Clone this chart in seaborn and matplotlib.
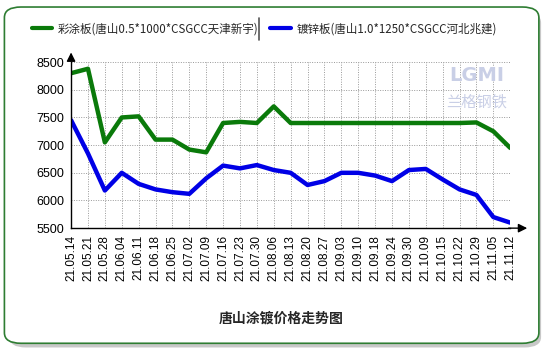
import numpy as np
import pandas as pd
import matplotlib
matplotlib.use("Agg")
import matplotlib.pyplot as plt
from matplotlib.patches import FancyBboxPatch
from matplotlib.lines import Line2D
import seaborn as sns

# dates (yy.mm.dd)
dates = ["21.05.14", "21.05.21", "21.05.28", "21.06.04", "21.06.11", "21.06.18",
         "21.06.25", "21.07.02", "21.07.09", "21.07.16", "21.07.23", "21.07.30",
         "21.08.06", "21.08.13", "21.08.20", "21.08.27", "21.09.03", "21.09.10",
         "21.09.18", "21.09.24", "21.09.30", "21.10.09", "21.10.15", "21.10.22",
         "21.10.29", "21.11.05", "21.11.12"]

# color coated sheet
color_coated = [8300, 8380, 7050, 7500, 7520, 7100, 7100, 6920, 6870, 7400,
                7420, 7400, 7700, 7400, 7400, 7400, 7400, 7400, 7400, 7400,
                7400, 7400, 7400, 7400, 7410, 7250, 6950]
# galvanized sheet
galvanized = [7450, 6850, 6180, 6500, 6300, 6200, 6150, 6120, 6400, 6630,
              6580, 6640, 6550, 6500, 6280, 6350, 6500, 6500, 6450, 6350,
              6550, 6570, 6380, 6200, 6100, 5700, 5600]

name_a = "彩涂板(唐山0.5*1000*CSGCC天津新宇)"
name_b = "镀锌板(唐山1.0*1250*CSGCC河北兆建)"

df = pd.DataFrame({"idx": np.arange(len(dates)), "a": color_coated, "b": galvanized})

sns.set_style("white")
plt.rcParams["font.family"] = ["Noto Sans CJK SC", "DejaVu Sans"]

fig = plt.figure(figsize=(5.51, 3.51), dpi=100)

# rounded frame with a soft shadow
shadow = FancyBboxPatch((0.017, 0.01), 0.965, 0.955, boxstyle="round,pad=0,rounding_size=0.03",
                        transform=fig.transFigure, facecolor="#c8c8c8", edgecolor="none", zorder=0)
fig.add_artist(shadow)
frame = FancyBboxPatch((0.008, 0.022), 0.97, 0.958, boxstyle="round,pad=0,rounding_size=0.03",
                       transform=fig.transFigure, facecolor="white", edgecolor="#2e7d32",
                       linewidth=1.2, zorder=0)
fig.add_artist(frame)

ax = fig.add_axes([0.129, 0.350, 0.797, 0.473])
ax.set_facecolor("none")

sns.lineplot(data=df, x="idx", y="a", ax=ax, color="#0a7a0a", linewidth=3.2,
             solid_joinstyle="round", solid_capstyle="round")
sns.lineplot(data=df, x="idx", y="b", ax=ax, color="#0000e6", linewidth=3.2,
             solid_joinstyle="round", solid_capstyle="round")

ax.set_xlim(0, len(dates) - 1)
ax.set_ylim(5500, 8500)
ax.set_xticks(np.arange(len(dates)))
ax.set_xticklabels(dates, rotation=90, fontsize=8.5, family="Liberation Sans")
ax.set_yticks(np.arange(5500, 8501, 500))
ax.set_yticklabels([str(v) for v in range(5500, 8501, 500)], fontsize=9, family="Liberation Sans")
ax.tick_params(axis="both", direction="out", length=3, width=0.8, colors="black", pad=2)
ax.grid(True, linestyle=(0, (1, 1.5)), color="#999999", linewidth=0.7)
ax.set_xlabel("")
ax.set_ylabel("")
for s in ["top", "right"]:
    ax.spines[s].set_visible(False)
for s in ["left", "bottom"]:
    ax.spines[s].set_color("black")
    ax.spines[s].set_linewidth(1.0)

# axis arrows
ax.annotate("", xy=(1.045, 0), xytext=(0.99, 0), xycoords="axes fraction",
            arrowprops=dict(arrowstyle="-|>", color="black", lw=1.0, mutation_scale=13))
ax.annotate("", xy=(0, 1.075), xytext=(0, 0.99), xycoords="axes fraction",
            arrowprops=dict(arrowstyle="-|>", color="black", lw=1.0, mutation_scale=13))

# watermark
fig.text(0.865, 0.785, "LGMI", fontsize=14, color="#c9cfe6", ha="center", va="center",
         weight="bold", family="DejaVu Sans")
fig.text(0.865, 0.71, "兰格钢铁", fontsize=11, color="#c9cfe6", ha="center", va="center")

# legend
handles = [Line2D([], [], color="#0a7a0a", lw=3), Line2D([], [], color="#0000e6", lw=3)]
leg = fig.legend(handles, [name_a, name_b], loc="center", bbox_to_anchor=(0.48, 0.918),
                 ncol=2, frameon=False, fontsize=8.3, handlelength=1.8, handletextpad=0.5,
                 columnspacing=1.0)
fig.add_artist(Line2D([0.47, 0.47], [0.885, 0.95], color="#555555", lw=1.2,
                      transform=fig.transFigure))

fig.text(0.51, 0.093, "唐山涂镀价格走势图", fontsize=10, weight="bold", ha="center", va="center")

fig.savefig("out.png", dpi=100)
